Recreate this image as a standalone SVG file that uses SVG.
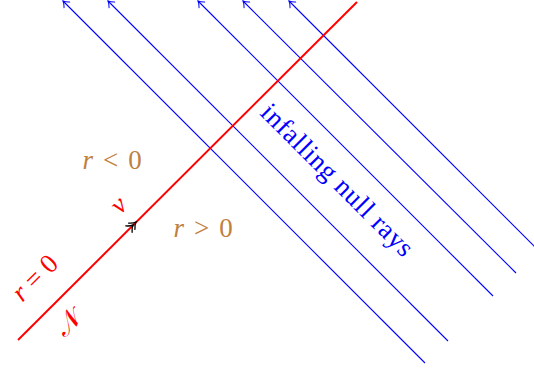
<svg xmlns="http://www.w3.org/2000/svg" width="534" height="370" viewBox="0 0 534 370">
<defs>
<marker id="tip" markerUnits="userSpaceOnUse" markerWidth="12" markerHeight="12" viewBox="-8 -6 10 12" refX="0" refY="0" orient="auto">
<path d="M -5.5 -4 C -3.5 -1.8 -1.2 -0.5 0 0 C -1.2 0.5 -3.5 1.8 -5.5 4" fill="none" stroke="#0000ff" stroke-width="1" stroke-linecap="round"/>
</marker>
</defs>
<style>
.ray{stroke:#0000ff;stroke-width:1.1;fill:none;marker-end:url(#tip)}
.hor{stroke:#ff0000;stroke-width:2;fill:none}
.t{font-family:"Liberation Serif","DejaVu Serif",serif;font-size:27px}
.red{fill:#ff0000}
.brown{fill:#bf8040}
.blue{fill:#0000ff}
.it{font-style:italic}
</style>
<g id="connectors">
<line class="ray" x1="425" y1="363" x2="63" y2="1"/>
<line class="ray" x1="448" y1="341" x2="108" y2="1"/>
<line class="ray" x1="493" y1="296" x2="198" y2="1"/>
<line class="ray" x1="516" y1="273" x2="243" y2="1"/>
<line class="ray" x1="538.5" y1="250.5" x2="289" y2="1"/>
</g>
<g id="horizon">
<line class="hor" x1="18" y1="340" x2="357" y2="2"/>
<g transform="translate(136,222) rotate(-45)" fill="none" stroke="#000" stroke-width="1.3" stroke-linecap="round">
<path d="M -6 -4.5 C -4 -2 -1.5 -0.5 0 0 C -1.5 0.5 -4 2 -6 4.5"/>
<path d="M -10 -4.5 C -8 -2 -5.5 -0.5 -4 0 C -5.5 0.5 -8 2 -10 4.5"/>
</g>
</g>
<g id="label-r0">
<text class="t red" text-anchor="middle" transform="translate(41,284) rotate(-45)"><tspan class="it">r</tspan><tspan dx="7">=</tspan><tspan dx="7">0</tspan></text>
</g>
<g id="label-N">
<text class="t red" text-anchor="middle" font-size="28" transform="translate(74,329) rotate(-45)">𝒩</text>
</g>
<g id="label-v">
<text class="t red it" text-anchor="middle" transform="translate(124.5,211) rotate(-45)">v</text>
</g>
<g id="label-rneg">
<text class="t brown" text-anchor="middle" x="112" y="169"><tspan class="it">r</tspan><tspan dx="10">&lt;</tspan><tspan dx="10">0</tspan></text>
</g>
<g id="label-rpos">
<text class="t brown" text-anchor="middle" x="203" y="237"><tspan class="it">r</tspan><tspan dx="10">&gt;</tspan><tspan dx="10">0</tspan></text>
</g>
<g id="label-rays">
<text class="t blue" text-anchor="middle" textLength="204" lengthAdjust="spacing" transform="translate(331,186) rotate(45)">infalling null rays</text>
</g>
</svg>
